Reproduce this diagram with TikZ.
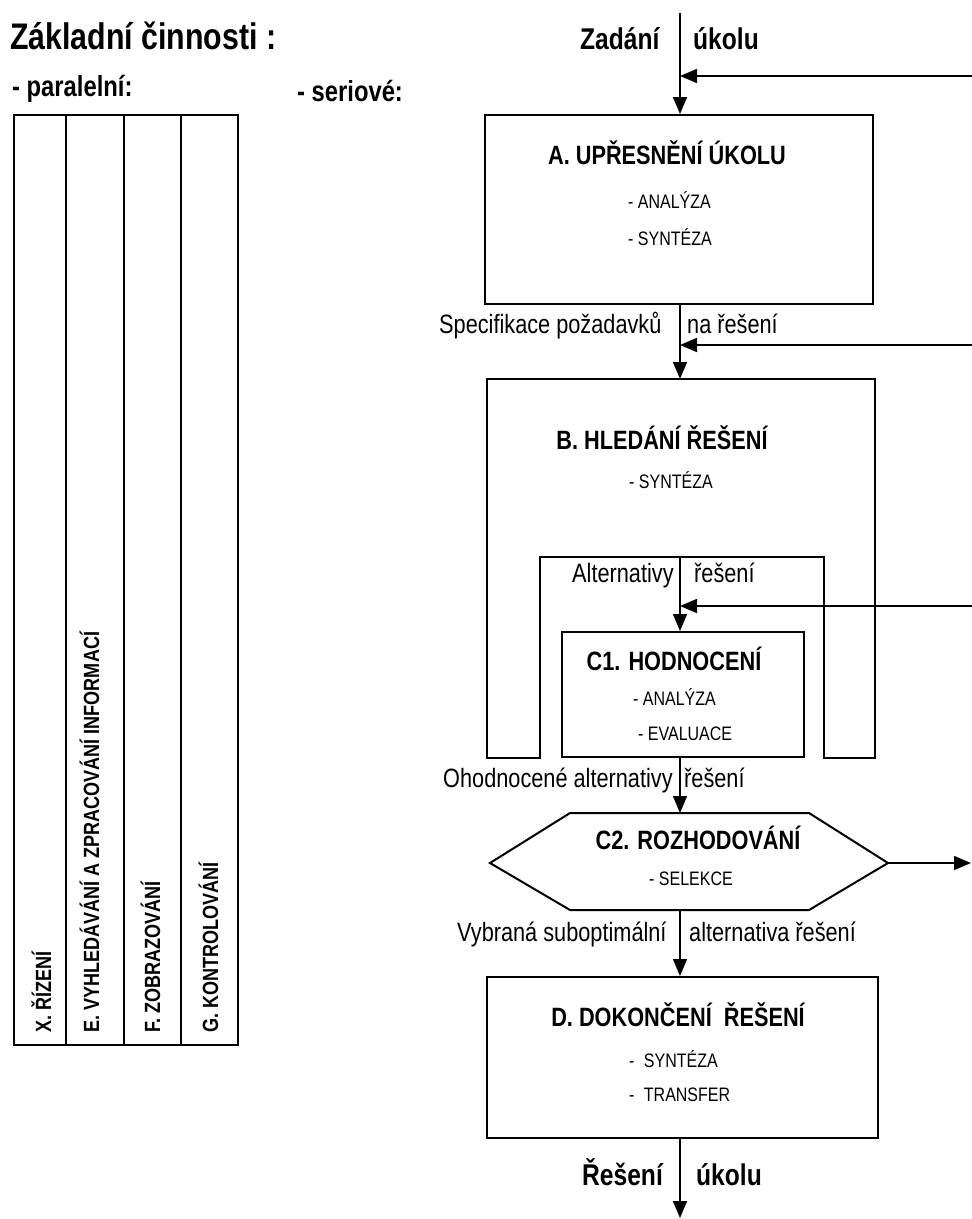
\documentclass[tikz,border=0pt]{standalone}
\usepackage{fontspec}
\setmainfont{Liberation Sans}[FakeStretch=0.82]
\usetikzlibrary{arrows.meta}
\begin{document}
\begin{tikzpicture}[x=1pt,y=-1pt,
  box/.style={draw, line width=2pt, inner sep=0pt, rectangle},
  ln/.style={line width=1.6pt},
  arr/.style={ln, -{Triangle[length=17pt,width=14pt]}},
  ttl/.style={font=\fontsize{26.5}{26.5}\selectfont\bfseries, anchor=base, inner sep=0pt},
  sub/.style={font=\fontsize{19.5}{20}\selectfont, anchor=base west, inner sep=0pt},
  lab/.style={font=\fontsize{26.5}{26.5}\selectfont, anchor=base west, inner sep=0pt},
  big/.style={font=\fontsize{30}{30}\selectfont\bfseries, anchor=base west, inner sep=0pt},
  head/.style={font=\fontsize{29}{29}\selectfont\bfseries, anchor=base west, inner sep=0pt},
  col/.style={font=\fontsize{22}{22}\selectfont\bfseries, rotate=90, anchor=base west, inner sep=0pt}]
\useasboundingbox (0,0) rectangle (972,1219);

% headings
\node[font=\fontsize{37}{37}\selectfont\bfseries, anchor=base west, inner sep=0pt] (title) at (10,49) {Základní\hspace{8pt}činnosti :};
\node[head] (par) at (12,96) {- paralelní:};
\node[head] (ser) at (297,101) {- seriové:};

% left table
\draw[line width=2.2pt] (14,115) rectangle (238,1045);
\foreach \xx in {66,124,181} \draw[line width=2.2pt] (\xx,115) -- (\xx,1045);
\node[col] (cX) at (51,1033) {X. ŘÍZENÍ};
\node[col] (cE) at (99,1033) {E. VYHLEDÁVÁNÍ A ZPRACOVÁNÍ INFORMACÍ};
\node[col] (cF) at (160,1033) {F. ZOBRAZOVÁNÍ};
\node[col] (cG) at (218,1033) {G. KONTROLOVÁNÍ};

% boxes
\node[box, minimum width=388pt, minimum height=189pt] (A) at (679,209.5) {};
\node[box, minimum width=242pt, minimum height=125pt] (C1) at (683,694.5) {};
\node[box, minimum width=391pt, minimum height=161pt] (D) at (682.5,1057.5) {};
\draw[line width=2pt] (487,379) coordinate (Btl) -- (875,379) -- (875,758) -- (824,758) -- (824,557) -- (540,557) -- (540,758) -- (487,758) -- cycle;
\coordinate (Btop) at (680,379);
\coordinate (Bnotch) at (680,557);
\draw[line width=2pt] (570,813) -- (809,813) -- (888,863) coordinate (C2r) -- (809,910) -- (570,910) -- (490,863) -- cycle;
\coordinate (C2top) at (680,813);
\coordinate (C2bot) at (680,910);

% texts in boxes
\node[ttl] (At) at (667,164) {A. UPŘESNĚNÍ ÚKOLU};
\node[sub] (A1) at (628,208) {- ANALÝZA};
\node[sub] (A2) at (628,245) {- SYNTÉZA};
\node[ttl] (Bt) at (662,449) {B. HLEDÁNÍ ŘEŠENÍ};
\node[sub] (B1) at (629,488) {- SYNTÉZA};
\node[ttl] (C1t) at (674,670) {C1. HODNOCENÍ};
\node[sub] (C11) at (633,705) {- ANALÝZA};
\node[sub] (C12) at (638,740) {- EVALUACE};
\node[ttl] (C2t) at (698,849) {C2. ROZHODOVÁNÍ};
\node[sub] (C21) at (649,885) {- SELEKCE};
\node[ttl] (Dt) at (678,1026) {D. DOKONČENÍ\hspace{6pt} ŘEŠENÍ};
\node[sub] (D1) at (629,1067) {-\hspace{5pt} SYNTÉZA};
\node[sub] (D2) at (629,1101) {-\hspace{5pt} TRANSFER};

% connector labels
\node[big] (z1) at (580,49) {Zadání};
\node[big] (z2) at (693,49) {úkolu};
\node[lab] (s1) at (439,333) {Specifikace požadavků};
\node[lab] (s2) at (687,333) {na řešení};
\node[lab] (al1) at (572,582) {Alternativy};
\node[lab] (al2) at (694,582) {řešení};
\node[lab] (o1) at (443,787) {Ohodnocené alternativy};
\node[lab] (o2) at (684,787) {řešení};
\node[lab] (v1) at (457,941) {Vybraná suboptimální};
\node[lab] (v2) at (689,941) {alternativa řešení};
\node[big] (r1) at (582,1185) {Řešení};
\node[big] (r2) at (696,1185) {úkolu};

% main flow
\coordinate (s0) at (680,13);
\draw[arr] (s0) -- (s0 |- A.north);
\draw[arr] (s0 |- A.south) -- (Btop);
\draw[arr] (Bnotch) -- (Bnotch |- C1.north);
\draw[arr] (Bnotch |- C1.south) -- (C2top);
\draw[arr] (C2bot) -- (C2bot |- D.north);
\coordinate (endp) at (680,1218);
\draw[arr] (s0 |- D.south) -- (endp);

% feedback lines
\coordinate (f1) at (972,76);
\coordinate (f2) at (972,345);
\coordinate (f3) at (972,606);
\draw[arr] (f1) -- (f1 -| s0);
\draw[arr] (f2) -- (f2 -| s0);
\draw[arr] (f3) -- (f3 -| s0);
\coordinate (outR) at (971,863);
\draw[arr] (C2r) -- (outR);
\end{tikzpicture}
\end{document}
